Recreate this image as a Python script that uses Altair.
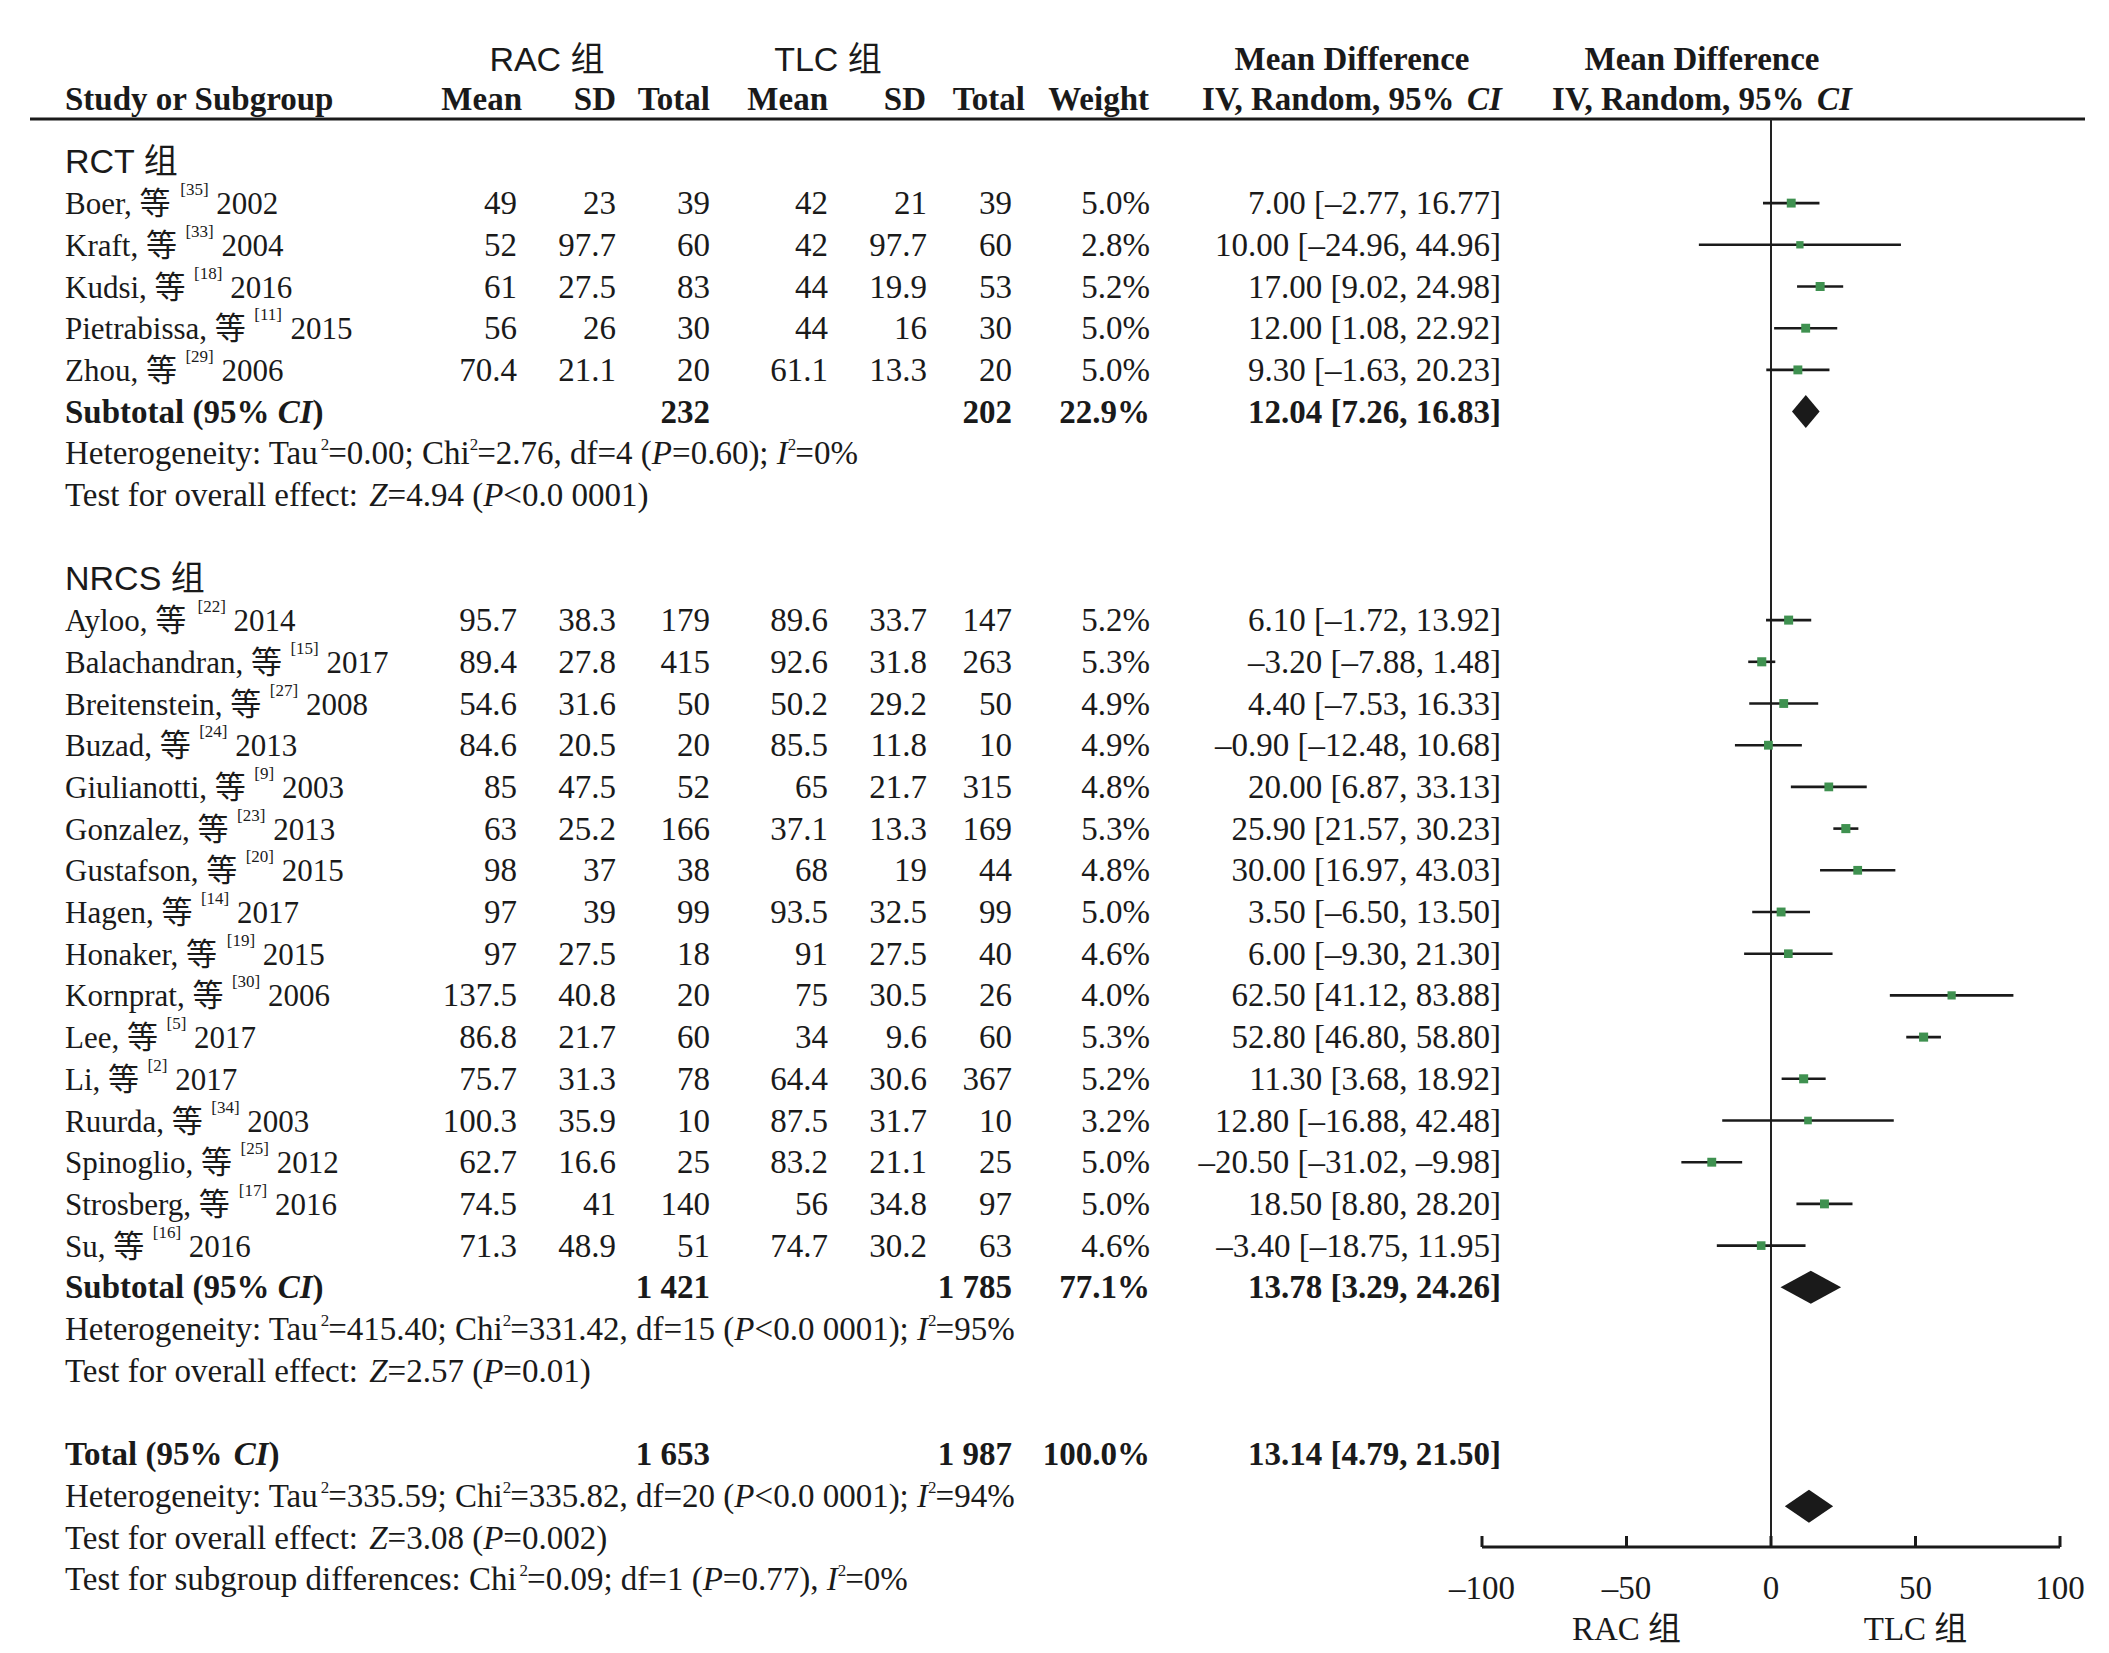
import altair as alt
import pandas as pd

# ---------------- data ----------------
group_labels = ["RCT 组", "NRCS 组"]
study_names = ["Boer", "Kraft", "Kudsi", "Pietrabissa", "Zhou",
               "Ayloo", "Balachandran", "Breitenstein", "Buzad", "Giulianotti",
               "Gonzalez", "Gustafson", "Hagen", "Honaker", "Kornprat", "Lee",
               "Li", "Ruurda", "Spinoglio", "Strosberg", "Su"]
study_group = [0, 0, 0, 0, 0] + [1] * 16
refs = [35, 33, 18, 11, 29, 22, 15, 27, 24, 9, 23, 20, 14, 19, 30, 5, 2, 34, 25, 17, 16]
years = [2002, 2004, 2016, 2015, 2006, 2014, 2017, 2008, 2013, 2003, 2013, 2015,
         2017, 2015, 2006, 2017, 2017, 2003, 2012, 2016, 2016]
rac_mean = [49, 52, 61, 56, 70.4, 95.7, 89.4, 54.6, 84.6, 85, 63, 98, 97, 97, 137.5,
            86.8, 75.7, 100.3, 62.7, 74.5, 71.3]
rac_sd = [23, 97.7, 27.5, 26, 21.1, 38.3, 27.8, 31.6, 20.5, 47.5, 25.2, 37, 39, 27.5,
          40.8, 21.7, 31.3, 35.9, 16.6, 41, 48.9]
rac_n = [39, 60, 83, 30, 20, 179, 415, 50, 20, 52, 166, 38, 99, 18, 20, 60, 78, 10, 25, 140, 51]
tlc_mean = [42, 42, 44, 44, 61.1, 89.6, 92.6, 50.2, 85.5, 65, 37.1, 68, 93.5, 91, 75,
            34, 64.4, 87.5, 83.2, 56, 74.7]
tlc_sd = [21, 97.7, 19.9, 16, 13.3, 33.7, 31.8, 29.2, 11.8, 21.7, 13.3, 19, 32.5, 27.5,
          30.5, 9.6, 30.6, 31.7, 21.1, 34.8, 30.2]
tlc_n = [39, 60, 53, 30, 20, 147, 263, 50, 10, 315, 169, 44, 99, 40, 26, 60, 367, 10, 25, 97, 63]
weight = [5.0, 2.8, 5.2, 5.0, 5.0, 5.2, 5.3, 4.9, 4.9, 4.8, 5.3, 4.8, 5.0, 4.6, 4.0,
          5.3, 5.2, 3.2, 5.0, 5.0, 4.6]
md = [7.00, 10.00, 17.00, 12.00, 9.30, 6.10, -3.20, 4.40, -0.90, 20.00, 25.90, 30.00,
      3.50, 6.00, 62.50, 52.80, 11.30, 12.80, -20.50, 18.50, -3.40]
ci_lo = [-2.77, -24.96, 9.02, 1.08, -1.63, -1.72, -7.88, -7.53, -12.48, 6.87, 21.57,
         16.97, -6.50, -9.30, 41.12, 46.80, 3.68, -16.88, -31.02, 8.80, -18.75]
ci_hi = [16.77, 44.96, 24.98, 22.92, 20.23, 13.92, 1.48, 16.33, 10.68, 33.13, 30.23,
         43.03, 13.50, 21.30, 83.88, 58.80, 18.92, 42.48, -9.98, 28.20, 11.95]

sum_labels = ["Subtotal", "Subtotal", "Total"]
sum_rac_n = ["232", "1 421", "1 653"]
sum_tlc_n = ["202", "1 785", "1 987"]
sum_weight = [22.9, 77.1, 100.0]
sum_md = [12.04, 13.78, 13.14]
sum_lo = [7.26, 3.29, 4.79]
sum_hi = [16.83, 24.26, 21.50]

het_tau2 = ["0.00", "415.40", "335.59"]
het_chi2 = ["2.76", "331.42", "335.82"]
het_df = ["4", "15", "20"]
het_p = ["=0.60", "<0.0 0001", "<0.0 0001"]
het_i2 = ["0%", "95%", "94%"]
eff_z = ["4.94", "2.57", "3.08"]
eff_p = ["<0.0 0001", "=0.01", "=0.002"]
subgroup_test = ["0.09", "1", "=0.77", "0%"]

axis_ticks = [-100, -50, 0, 50, 100]
axis_tick_labels = ["–100", "–50", "0", "50", "100"]
favours = ["RAC 组", "TLC 组"]
favours_at = [-50, 50]

# ---------------- style / layout ----------------
SERIF = "Liberation Serif, Noto Sans CJK SC"
SANS = "Liberation Sans, Noto Sans CJK SC"
INK = "#1a1a1a"
GREEN = "#3f9150"
FS = 33
FS_STUDY = 31
SUP = 17

W, H = 2093, 1645
ROW0, ROWH = 161.4, 41.7


def rr(py):
    return (py - ROW0) / ROWH


YTOP, YBOT = rr(8), rr(8 + H)
X0, PXU = 1771.0, 2.89
FMIN, FMAX = (8 - X0) / PXU, (8 + W - X0) / PXU
BASE = 11 / ROWH
SANSBASE = 12 / ROWH
SUPOFF = -3 / ROWH
CITOFF = -8 / ROWH

XT = alt.Scale(domain=[8, 8 + W], nice=False, zero=False)
XF = alt.Scale(domain=[FMIN, FMAX], nice=False, zero=False)
YS = alt.Scale(domain=[YTOP, YBOT], reverse=True, nice=False, zero=False)


def xt(f="px"):
    return alt.X(f"{f}:Q", scale=XT, axis=None)


def xf(f="v"):
    return alt.X(f"{f}:Q", scale=XF, axis=None)


def yy(f="y", **kw):
    return alt.Y(f"{f}:Q", scale=YS, axis=None, **kw)


# ---- Times metrics (Liberation Serif is metric compatible) ----
PUNCT = {' ': 250, '(': 333, ')': 333, ',': 250, '.': 250, ':': 278, ';': 278,
         '<': 564, '=': 564, '%': 833, '[': 333, ']': 333, '–': 500, '-': 333}
ROMAN = dict(PUNCT)
ROMAN.update({d: 500 for d in "0123456789"})
ROMAN.update(dict(zip("ABCDEFGHIJKLMNOPQRSTUVWXYZ",
                      [722, 667, 667, 722, 611, 556, 722, 722, 333, 389, 722, 611, 889,
                       722, 722, 556, 722, 667, 556, 611, 722, 722, 944, 722, 722, 611])))
ROMAN.update(dict(zip("abcdefghijklmnopqrstuvwxyz",
                      [444, 500, 444, 500, 444, 333, 500, 500, 278, 278, 500, 278, 778,
                       500, 500, 500, 500, 333, 389, 278, 500, 500, 722, 500, 500, 444])))
ITALIC = dict(ROMAN)
ITALIC.update({'C': 667, 'I': 333, 'P': 611, 'Z': 556})
BOLD = dict(PUNCT)
BOLD.update({'%': 1000, ':': 333, ';': 333, '=': 570})
BOLD.update({d: 500 for d in "0123456789"})
BOLD.update(dict(zip("ABCDEFGHIJKLMNOPQRSTUVWXYZ",
                     [722, 667, 722, 722, 667, 611, 778, 778, 389, 500, 778, 667, 944,
                      722, 778, 611, 778, 722, 556, 667, 722, 722, 1000, 722, 722, 667])))
BOLD.update(dict(zip("abcdefghijklmnopqrstuvwxyz",
                     [500, 556, 444, 556, 444, 333, 500, 556, 278, 333, 556, 278, 833,
                      556, 500, 556, 556, 444, 389, 333, 556, 500, 722, 500, 500, 444])))
BOLDI = dict(BOLD)
BOLDI.update({'C': 667, 'I': 389})


def tw(s, tbl, size):
    return sum((1000 if ord(c) >= 0x2E80 else tbl.get(c, 500)) for c in s) * size / 1000


STY = {
    'n': (ROMAN, FS, 'n', BASE),
    'm': (ROMAN, FS_STUDY, 'n', BASE),
    'i': (ITALIC, FS, 'i', BASE),
    'b': (BOLD, FS, 'b', BASE),
    'bi': (BOLDI, FS, 'bi', BASE),
    's': (ROMAN, SUP, 'n', SUPOFF),
    'c': (ROMAN, SUP, 'n', CITOFF),
}

seg_rows = []


def add_rich(parts, x0, r):
    x = x0
    for text, st in parts:
        tbl, size, key, off = STY[st]
        lead = len(text) - len(text.lstrip(' '))
        x += lead * tbl[' '] * size / 1000
        body = text.lstrip(' ')
        seg_rows.append(dict(px=x, y=r + off, text=body, k=key, size=size))
        x += tw(body, tbl, size)
        if st == 's':
            x -= 1


def rich_width(parts):
    return sum(tw(t, STY[st][0], STY[st][1]) for t, st in parts)


def fnum(v):
    return ("–" if v < 0 else "") + f"{abs(v):.2f}"


def fci(m, lo, hi):
    return f"{fnum(m)} [{fnum(lo)}, {fnum(hi)}]"


LEFT = 65
COLS = [517, 616, 710, 828, 927, 1012, 1150, 1501]

cell_rows = []
cen_rows = []
sans_rows = []

# header
for txt, cx in [("RAC 组", 547), ("TLC 组", 828)]:
    sans_rows.append(dict(px=cx, y=-2.45 + SANSBASE, text=txt, a="center"))
for cx in [1352, 1702]:
    cen_rows.append(dict(px=cx, y=-2.45 + BASE, text="Mean Difference", k="b"))
    parts = [("IV, Random, 95% ", 'b'), ("CI", 'bi')]
    add_rich(parts, cx - rich_width(parts) / 2, -1.5)
add_rich([("Study or Subgroup", 'b')], LEFT, -1.5)
for txt, rx in zip(["Mean", "SD", "Total", "Mean", "SD", "Total", "Weight"],
                   [522, 616, 710, 828, 926, 1025, 1149]):
    cell_rows.append(dict(px=rx, y=-1.5 + BASE, text=txt, k="b"))

# group headings
group_rows = [0, 10]
for g, r in zip(group_labels, group_rows):
    sans_rows.append(dict(px=LEFT, y=r + SANSBASE, text=g, a="left"))

# studies
study_rows = []
for i in range(len(study_names)):
    g = study_group[i]
    idx_in_g = sum(1 for j in range(i) if study_group[j] == g)
    r = group_rows[g] + 1 + idx_in_g
    study_rows.append(r)
    add_rich([(f"{study_names[i]}, 等", 'm'), (f"  [{refs[i]}]", 'c'), (f" {years[i]}", 'm')], LEFT, r)
    vals = [f"{rac_mean[i]:g}", f"{rac_sd[i]:g}", str(rac_n[i]), f"{tlc_mean[i]:g}",
            f"{tlc_sd[i]:g}", str(tlc_n[i]), f"{weight[i]:.1f}%", fci(md[i], ci_lo[i], ci_hi[i])]
    for v, cx in zip(vals, COLS):
        cell_rows.append(dict(px=cx, y=r + BASE, text=v, k="n"))

# summaries
sum_rows = [6, 27, 31]
diamond_rows = [6, 27, 32.25]
for s in range(3):
    r = sum_rows[s]
    add_rich([(f"{sum_labels[s]} (95% ", 'b'), ("CI", 'bi'), (")", 'b')], LEFT, r)
    for v, cx in zip([sum_rac_n[s], sum_tlc_n[s], f"{sum_weight[s]:.1f}%",
                      fci(sum_md[s], sum_lo[s], sum_hi[s])], [COLS[2], COLS[5], COLS[6], COLS[7]]):
        cell_rows.append(dict(px=cx, y=r + BASE, text=v, k="b"))
    add_rich([("Heterogeneity: Tau", 'n'), ("2", 's'), (f"={het_tau2[s]}; Chi", 'n'), ("2", 's'),
              (f"={het_chi2[s]}, df={het_df[s]} (", 'n'), ("P", 'i'), (f"{het_p[s]}); ", 'n'),
              ("I", 'i'), ("2", 's'), (f"={het_i2[s]}", 'n')], LEFT, r + 1)
    add_rich([("Test for overall effect: ", 'n'), ("Z", 'i'), (f"={eff_z[s]} (", 'n'),
              ("P", 'i'), (f"{eff_p[s]})", 'n')], LEFT, r + 2)
add_rich([("Test for subgroup differences: Chi", 'n'), ("2", 's'),
          (f"={subgroup_test[0]}; df={subgroup_test[1]} (", 'n'), ("P", 'i'),
          (f"{subgroup_test[2]}), ", 'n'), ("I", 'i'), ("2", 's'), (f"={subgroup_test[3]}", 'n')],
         LEFT, 34)

seg_df = pd.DataFrame(seg_rows)
cell_df = pd.DataFrame(cell_rows)
cen_df = pd.DataFrame(cen_rows)
sans_df = pd.DataFrame(sans_rows)

study_df = pd.DataFrame({"y": study_rows, "md": md, "lo": ci_lo, "hi": ci_hi, "w": weight})

HALF = 16.5 / ROWH
dia_rows = []
for s in range(3):
    r = diamond_rows[s]
    dia_rows += [dict(id=s, v=sum_lo[s], y=r, y2=r),
                 dict(id=s, v=sum_md[s], y=r - HALF, y2=r + HALF),
                 dict(id=s, v=sum_hi[s], y=r, y2=r)]
dia_df = pd.DataFrame(dia_rows)

R_LINE = rr(119)
R_AXIS = rr(1547)
R_TICKLAB = rr(1588) + BASE
R_FAV = rr(1629) + BASE

# ---------------- layers ----------------
layers = []

layers.append(alt.Chart(pd.DataFrame({"px": [30], "px2": [2085], "y": [R_LINE]}))
              .mark_rule(color=INK, strokeWidth=3)
              .encode(x=xt(), x2="px2:Q", y=yy()))

layers.append(alt.Chart(pd.DataFrame({"v": [0], "y": [R_LINE], "y2": [R_AXIS]}))
              .mark_rule(color="#222222", strokeWidth=2)
              .encode(x=xf(), y=yy(), y2="y2:Q"))

layers.append(alt.Chart(study_df).mark_rule(color=INK, strokeWidth=2.6)
              .encode(x=xf("lo"), x2="hi:Q", y=yy()))

layers.append(alt.Chart(study_df).mark_square(filled=True, color=GREEN, opacity=1)
              .encode(x=xf("md"), y=yy(),
                      size=alt.Size("w:Q", scale=alt.Scale(domain=[2.5, 5.5], range=[50, 85]),
                                    legend=None)))

for s in range(3):
    layers.append(alt.Chart(dia_df).transform_filter(alt.datum.id == s)
                  .mark_area(color=INK, orient="vertical", opacity=1)
                  .encode(x=xf("v"), y=yy("y", stack=False), y2="y2:Q"))

layers.append(alt.Chart(pd.DataFrame({"v": [axis_ticks[0]], "v2": [axis_ticks[-1]], "y": [R_AXIS]}))
              .mark_rule(color=INK, strokeWidth=3)
              .encode(x=xf(), x2="v2:Q", y=yy()))

tick_df = pd.DataFrame({"v": axis_ticks, "t": axis_tick_labels,
                        "y": [R_AXIS] * len(axis_ticks),
                        "y2": [R_AXIS - 11 / ROWH] * len(axis_ticks),
                        "yl": [R_TICKLAB] * len(axis_ticks)})
layers.append(alt.Chart(tick_df).mark_rule(color=INK, strokeWidth=3)
              .encode(x=xf(), y=yy(), y2="y2:Q"))
layers.append(alt.Chart(tick_df).mark_text(font=SERIF, fontSize=FS, color=INK, align="center",
                                           baseline="alphabetic")
              .encode(x=xf(), y=yy("yl"), text="t:N"))

fav_df = pd.DataFrame({"v": favours_at, "t": favours, "y": [R_FAV] * 2})
layers.append(alt.Chart(fav_df).mark_text(font=SERIF, fontSize=FS, color=INK, align="center",
                                          baseline="alphabetic")
              .encode(x=xf(), y=yy(), text="t:N"))

# rich left-aligned segments
for key, fstyle, fweight in [("n", "normal", "normal"), ("i", "italic", "normal"),
                             ("b", "normal", "bold"), ("bi", "italic", "bold")]:
    layers.append(alt.Chart(seg_df).transform_filter(alt.datum.k == key)
                  .mark_text(font=SERIF, fontStyle=fstyle, fontWeight=fweight, color=INK,
                             align="left", baseline="alphabetic")
                  .encode(x=xt(), y=yy(), text="text:N", size=alt.Size("size:Q", scale=None)))

# right aligned table cells
for key, fweight in [("n", "normal"), ("b", "bold")]:
    layers.append(alt.Chart(cell_df).transform_filter(alt.datum.k == key)
                  .mark_text(font=SERIF, fontSize=FS, fontWeight=fweight, color=INK,
                             align="right", baseline="alphabetic")
                  .encode(x=xt(), y=yy(), text="text:N"))

layers.append(alt.Chart(cen_df).mark_text(font=SERIF, fontSize=FS, fontWeight="bold", color=INK,
                                          align="center", baseline="alphabetic")
              .encode(x=xt(), y=yy(), text="text:N"))

for a in ["center", "left"]:
    layers.append(alt.Chart(sans_df).transform_filter(alt.datum.a == a)
                  .mark_text(font=SANS, fontSize=34, color=INK, align=a, baseline="alphabetic")
                  .encode(x=xt(), y=yy(), text="text:N"))

chart = (alt.layer(*layers)
         .resolve_scale(x="independent")
         .properties(width=W, height=H, autosize=alt.AutoSizeParams(type="none"),
                     padding=0, background="white")
         .configure_view(strokeWidth=0))

chart.save("out.html", embed_options={"renderer": "svg", "actions": False})
